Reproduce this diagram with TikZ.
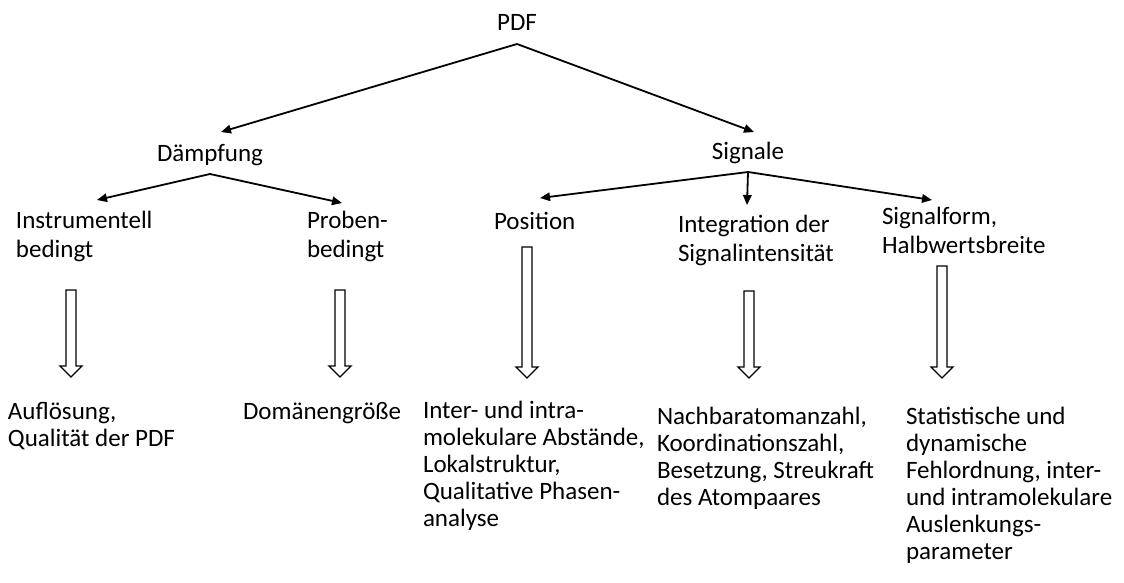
\documentclass[tikz,border=0pt]{standalone}
\usepackage{fontspec}
\setmainfont{Carlito}
\usetikzlibrary{arrows.meta}
\newcommand\fl{\rule{0pt}{25pt}}
\newcommand\hollowarrow[3]{%
  \draw[hollow] (#1-5,#2) -- (#1+5,#2) -- (#1+5,#3-11) -- (#1+11,#3-11) -- (#1,#3)
    -- (#1-11,#3-11) -- (#1-5,#3-11) -- cycle;}
\begin{document}
\begin{tikzpicture}[x=1pt,y=-1pt,
  lbl/.style={inner sep=0pt, outer sep=0pt, align=left, anchor=north west,
    font=\fontsize{25}{29}\selectfont},
  lblb/.style={lbl, font=\fontsize{25}{27}\selectfont},
  ttl/.style={inner sep=0pt, outer sep=0pt, anchor=base,
    font=\fontsize{25}{29}\selectfont},
  conn/.style={line width=1.8pt, -{Triangle[length=10pt,width=8.5pt]}},
  hollow/.style={line width=1.3pt, fill=white, line join=miter}]
\useasboundingbox (0,0) rectangle (1124,583);
% top levels
\node[ttl] (pdf) at (517,31) {PDF};
\node[ttl] (daem) at (210,161) {Dämpfung};
\node[ttl] (sig) at (748,160) {Signale};
% level 2
\node[lbl] (instr) at (16,228-25) {\fl Instrumentell\\bedingt};
\node[lbl] (prob) at (307,228-25) {\fl Proben-\\bedingt};
\node[lbl] (pos) at (494,229-25) {\fl Position};
\node[lbl] (integ) at (678,232-25) {\fl Integration der\\Signalintensität};
\node[lbl] (sform) at (882,224-25) {\fl Signalform,\\Halbwertsbreite};
% bottom
\node[lblb] (aufl) at (8,419-25) {\fl Auflösung,\\Qualität der PDF};
\node[lblb] (dom) at (243,419-25) {\fl Domänengröße};
\node[lblb] (inter) at (423,418-25) {\fl Inter- und intra-\\molekulare Abstände,\\Lokalstruktur,\\Qualitative Phasen-\\analyse};
\node[lblb] (nach) at (657,424-25) {\fl Nachbaratomanzahl,\\Koordinationszahl,\\Besetzung, Streukraft\\des Atompaares};
\node[lblb] (stat) at (906,424-25) {\fl Statistische und\\dynamische\\Fehlordnung, inter-\\und intramolekulare\\Auslenkungs-\\parameter};
% connector points
\coordinate (pdfA) at (517,44);
\coordinate (daemT) at (221,132);
\coordinate (sigT) at (754,132);
\coordinate (daemA) at (210,174);
\coordinate (sigA) at (748,172);
\coordinate (instrT) at (97,200);
\coordinate (probT) at (342,203);
\coordinate (posT) at (540,198);
\coordinate (integT) at (747,205);
\coordinate (sformT) at (932,200);
\draw[conn] (pdfA) -- (daemT);
\draw[conn] (pdfA) -- (sigT);
\draw[conn] (daemA) -- (instrT);
\draw[conn] (daemA) -- (probT);
\draw[conn] (sigA) -- (posT);
\draw[conn] (sigA) -- (integT);
\draw[conn] (sigA) -- (sformT);
% hollow arrows
\hollowarrow{71}{290}{377}
\hollowarrow{340}{290}{377}
\hollowarrow{527}{247}{378}
\hollowarrow{749}{291}{378}
\hollowarrow{942}{266}{378}
\end{tikzpicture}
\end{document}
